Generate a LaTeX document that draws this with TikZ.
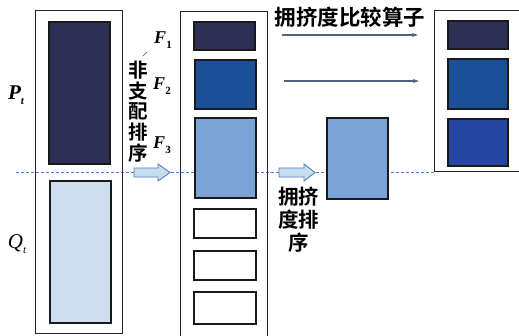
\documentclass[tikz,border=0pt]{standalone}
\usepackage{fontspec}
\setmainfont{Liberation Serif}
\newfontfamily\cjk{Noto Sans CJK SC}[BoldFont={Noto Sans CJK SC Bold}]
\usetikzlibrary{arrows.meta}
\definecolor{navy}{HTML}{2E2F55}
\definecolor{lightq}{HTML}{CFDEEE}
\definecolor{midblue}{HTML}{1B4F97}
\definecolor{lightblue}{HTML}{7BA4D6}
\definecolor{royal}{HTML}{2446A0}
\definecolor{dashc}{HTML}{4F7FC6}
\definecolor{thinarr}{HTML}{4D6585}
\definecolor{barrfill}{HTML}{C8DCEF}
\definecolor{barrdraw}{HTML}{4F7FBF}
\tikzset{
  outerbox/.style={draw=black!85, line width=0.9pt},
  innerbox/.style={draw=black!90, line width=1.2pt, inner sep=0pt},
  blockarrow/.style={draw=barrdraw, fill=barrfill, line width=0.9pt, line join=miter},
  thinarrow/.style={draw=thinarr, line width=1.1pt, -{Stealth[length=6pt,width=4pt]}},
  flabel/.style={font=\fontsize{18}{18}\selectfont\bfseries\itshape, inner sep=0pt},
  cjklabel/.style={font=\cjk\bfseries\fontsize{19.5}{20.6}\selectfont, align=center, inner sep=0pt},
}
\newcommand{\subt}[1]{\raisebox{-0.5ex}{\fontsize{11}{11}\selectfont #1}}
\newcommand{\subn}[1]{\raisebox{-0.6ex}{\fontsize{11}{11}\selectfont\upshape #1}}
\begin{document}
\begin{tikzpicture}[x=1pt,y=-1pt]
\useasboundingbox (0,0) rectangle (519,335);
\clip (0,0) rectangle (519,335);
% dashed line
\coordinate (dl) at (16,172);
\coordinate (dr) at (434,172);
\draw[dashc, line width=0.9pt, dash pattern=on 3pt off 2pt] (dl) -- (dr);
% outer rectangles
\draw[outerbox] (35,10) rectangle (122,333);
\draw[outerbox] (180,11) rectangle (267,345);
\draw[outerbox] (434,10) rectangle (530,171);
% left column
\node[innerbox, fill=navy, minimum width=61pt, minimum height=142pt] (pt) at (79.5,93) {};
\node[innerbox, fill=lightq, minimum width=61pt, minimum height=142pt] (qt) at (80.5,252) {};
% middle column
\node[innerbox, fill=navy, minimum width=61pt, minimum height=28pt] (f1) at (224.5,36) {};
\node[innerbox, fill=midblue, minimum width=61pt, minimum height=49pt] (f2) at (225.5,84.5) {};
\node[innerbox, fill=lightblue, minimum width=61pt, minimum height=80pt] (f3) at (225.5,158) {};
\node[innerbox, fill=white, minimum width=62pt, minimum height=29pt] (w1) at (225,223.5) {};
\node[innerbox, fill=white, minimum width=62pt, minimum height=29pt] (w2) at (225,265.5) {};
\node[innerbox, fill=white, minimum width=62pt, minimum height=32pt] (w3) at (225,308) {};
% crowded box
\node[innerbox, fill=lightblue, minimum width=61pt, minimum height=81pt] (cb) at (357.5,158.5) {};
% right column
\node[innerbox, fill=navy, minimum width=60pt, minimum height=28pt] (r1) at (478,35) {};
\node[innerbox, fill=midblue, minimum width=60pt, minimum height=50pt] (r2) at (478,84) {};
\node[innerbox, fill=royal, minimum width=60pt, minimum height=47pt] (r3) at (478,142.5) {};
% block arrows
\draw[blockarrow] (134,168) -- (158,168) -- (158,164) -- (170,172.5) -- (158,181) -- (158,177) -- (134,177) -- cycle;
\draw[blockarrow] (279,168) -- (304,168) -- (304,164) -- (315,172.5) -- (304,181) -- (304,177) -- (279,177) -- cycle;
% thin arrows
\coordinate (ta1s) at (282,35);
\coordinate (ta1e) at (418,35);
\coordinate (ta2s) at (284,81);
\coordinate (ta2e) at (419,81);
\draw[thinarrow] (ta1s) -- (ta1e);
\draw[thinarrow] (ta2s) -- (ta2e);
% labels
\node[inner sep=0pt, font=\fontsize{21}{21}\selectfont\bfseries\itshape] (ptl) at (16,95) {P\subt{t}};
\node[inner sep=0pt, font=\fontsize{21}{21}\selectfont\itshape] (qtl) at (17,244) {Q\subt{t}};
\node[flabel] (fl1) at (163,40) {F\subn{1}};
\node[flabel] (fl2) at (162,86) {F\subn{2}};
\node[flabel] (fl3) at (162,145) {F\subn{3}};
\coordinate (tk1) at (147,52);
\coordinate (tk2) at (143,56);
\draw[black!70, line width=0.5pt] (tk1) -- (tk2);
\node[cjklabel] (nds) at (138,111.5) {非\\支\\配\\排\\序};
\node[cjklabel, font=\cjk\bfseries\fontsize{20.5}{23}\selectfont] (cds) at (298.5,220) {拥挤\\度排\\序};
\node[inner sep=0pt, font=\cjk\bfseries\fontsize{21.5}{21.5}\selectfont] (title) at (350,17) {拥挤度比较算子};
\end{tikzpicture}
\end{document}
